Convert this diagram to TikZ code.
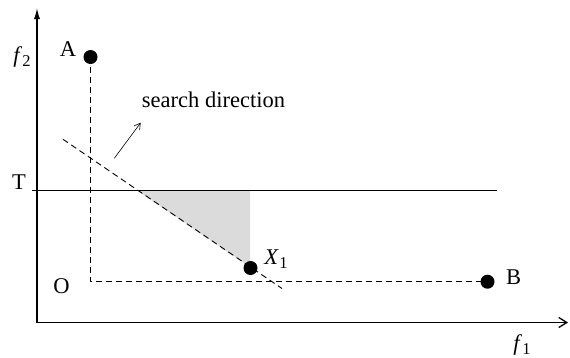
\documentclass[tikz,border=0pt]{standalone}
\usepackage{fontspec}
\setmainfont{Liberation Serif}
\usetikzlibrary{arrows.meta}
\newcommand{\fsub}[2]{\textit{#1}\kern0.3pt\raisebox{-0.4ex}{\fontsize{16.5}{16.5}\selectfont #2}}
\begin{document}
\begin{tikzpicture}[x=1pt,y=-1pt,
  font=\fontsize{22.5}{25}\selectfont,
  dot/.style={circle,fill=black,inner sep=0pt,minimum size=14pt},
  dline/.style={dash pattern=on 6pt off 4pt,line width=0.9pt},
  axisline/.style={line width=1.3pt},
  lbl/.style={inner sep=0pt}]
\useasboundingbox (0,0) rectangle (570,357);
% axes
\coordinate (org) at (37,322.5);
\coordinate (ytip) at (37,8);
\coordinate (xtip) at (568,322.5);
\draw[axisline,-{Latex[length=11pt,width=6pt]}] (org) -- (ytip);
\draw[axisline,-{Straight Barb[length=8pt,width=10pt]}] (org) -- (xtip);
% shaded region
\coordinate (g1) at (137,190.5);
\coordinate (g2) at (250,190.5);
\coordinate (g3) at (250,267);
\fill[gray!28] (g1) -- (g2) -- (g3) -- cycle;
% threshold line
\coordinate (t1) at (32,190.5);
\coordinate (t2) at (497,190.5);
\draw[line width=0.9pt] (t1) -- (t2);
% points
\node[dot] (A) at (90.5,57) {};
\node[dot] (B) at (487.5,281.7) {};
\node[dot] (X) at (250.5,268) {};
\coordinate (O) at (90.5,281.7);
\draw[dline] (A.center) -- (O) -- (B.center);
% search line
\coordinate (s1) at (63,139.3);
\coordinate (s2) at (282,288.5);
\draw[dline] (s1) -- (s2);
% search direction arrow
\coordinate (d1) at (114.3,158.3);
\coordinate (d2) at (140.7,122.7);
\draw[line width=0.6pt,-{Straight Barb[length=6pt,width=7pt]}] (d1) -- (d2);
% labels
\node[lbl] (lA) at (68,49) {A};
\node[lbl] (lB) at (513.5,277) {B};
\node[lbl] (lO) at (61.5,286) {O};
\node[lbl] (lT) at (19,182) {T};
\node[lbl] (lf2) at (22,57) {\fsub{f}{2}};
\node[lbl] (lf1) at (522,345) {\fsub{f}{1}};
\node[lbl] (lX) at (276,259) {\fsub{X}{1}};
\node[lbl] (ls) at (213.5,100) {search direction};
\end{tikzpicture}
\end{document}
